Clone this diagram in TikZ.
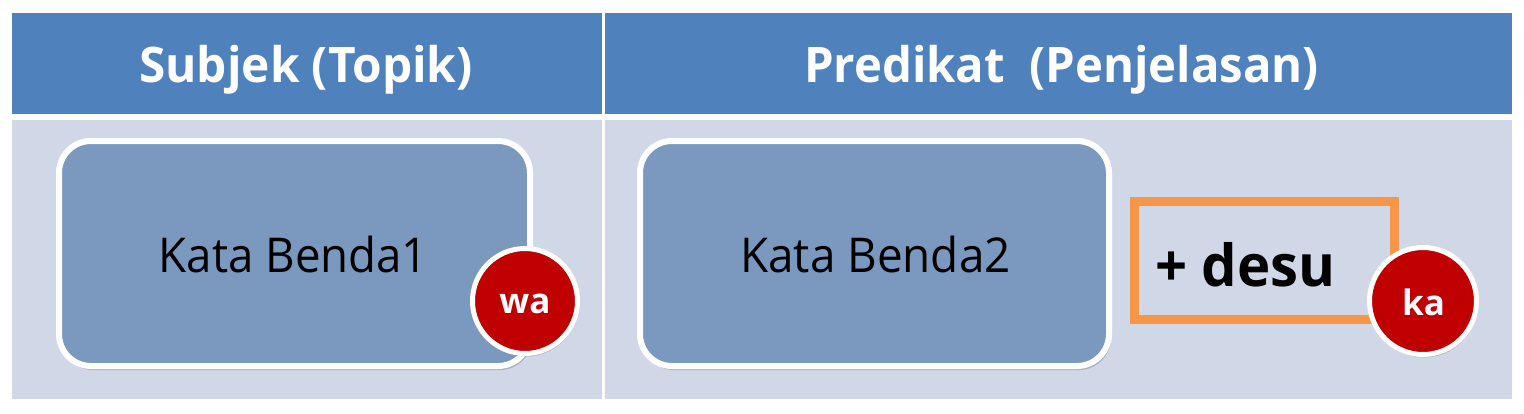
\documentclass[tikz,border=0pt]{standalone}
\usepackage{fontspec}
\setmainfont{Open Sans}
\usepackage{graphicx}
\usetikzlibrary{shadows}
\definecolor{hdrc}{HTML}{4F81BD}
\definecolor{bodyc}{HTML}{D0D8E8}
\definecolor{boxc}{HTML}{7B98BE}
\definecolor{redc}{HTML}{C00000}
\definecolor{orc}{HTML}{F79646}
\begin{document}
\begin{tikzpicture}[x=1pt,y=-1pt,
  hdrtext/.style={text=white,font=\fontsize{49}{56}\selectfont\bfseries,inner sep=0pt,anchor=base},
  bodytext/.style={text=black,font=\fontsize{48}{56}\selectfont,inner sep=0pt,anchor=base},
  nounbox/.style={draw=white,line width=6pt,fill=boxc,rounded corners=32pt,inner sep=0pt,
    drop shadow={shadow xshift=2pt,shadow yshift=-4pt,opacity=0.35,fill=black!60}},
  partcircle/.style={circle,draw=white,line width=5pt,fill=redc,inner sep=0pt,
    drop shadow={shadow xshift=1pt,shadow yshift=-3pt,opacity=0.35,fill=black!60}},
  parttext/.style={text=white,font=\fontsize{35}{40}\selectfont\bfseries,inner sep=0pt,anchor=base}]
\useasboundingbox (0,0) rectangle (1524,413);
\fill[white] (0,0) rectangle (1524,413);
\fill[hdrc] (12,13) rectangle (1512,114);
\fill[bodyc] (12,120) rectangle (1512,399);
\draw[white,line width=3pt] (603,13) -- (603,399);
% header texts
\node[hdrtext] (hdrA) at (306,82) {\scalebox{0.975}[1]{Subjek (Topik)}};
\node[hdrtext] (hdrB) at (1061.5,82) {\scalebox{0.965}[1]{Predikat\ \ (Penjelasan)}};
% noun boxes
\node[nounbox,minimum width=471pt,minimum height=225pt] (box1) at (294.5,253.5) {};
\node[nounbox,minimum width=469pt,minimum height=225pt] (box2) at (874.5,253.5) {};
\node[bodytext] (t1) at (293.5,272) {\scalebox{0.95}[1]{Kata Benda1}};
\node[bodytext] (t2) at (875.5,272) {\scalebox{0.955}[1]{Kata Benda2}};
% desu box
\node[draw=orc,line width=9pt,minimum width=260pt,minimum height=118pt,inner sep=0pt] (desubox) at (1264.5,260.5) {};
\node[text=black,font=\fontsize{58}{64}\selectfont\bfseries,inner sep=0pt,anchor=base west] (desu) at (1155,286) {\scalebox{0.97}[1]{+ desu}};
% particles
\node[partcircle,minimum size=105pt] (wa) at (525,301) {};
\node[parttext] (watext) at (525,313) {wa};
\node[partcircle,minimum size=107pt] (ka) at (1423,301) {};
\node[parttext] (katext) at (1423.5,315) {ka};
\end{tikzpicture}
\end{document}
